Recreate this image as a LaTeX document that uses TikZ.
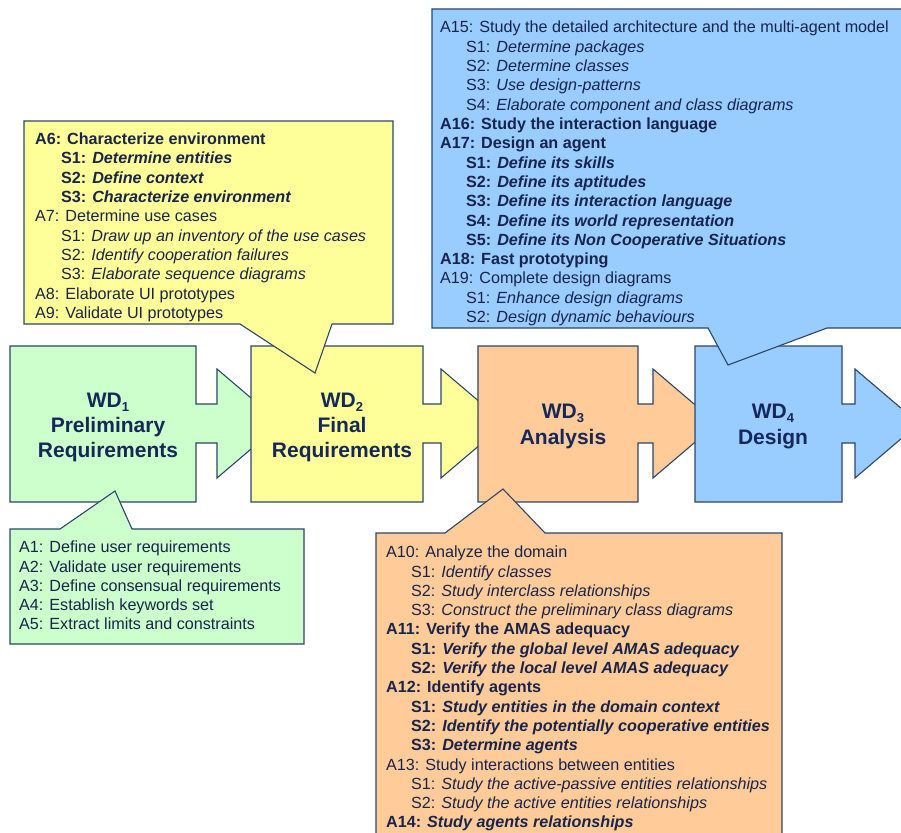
\documentclass[tikz,border=0pt]{standalone}
\usepackage{fontspec}
\setmainfont{Liberation Sans}
\definecolor{gfill}{RGB}{204,255,204}
\definecolor{yfill}{RGB}{255,255,153}
\definecolor{ofill}{RGB}{255,204,153}
\definecolor{bfill}{RGB}{153,204,255}
\definecolor{edge}{RGB}{45,70,105}
\definecolor{txt}{RGB}{24,36,76}
\definecolor{wdtxt}{RGB}{22,40,90}
\tikzset{
  shp/.style={draw=edge, line width=1.1pt, line join=miter},
  ln/.style={anchor=base west, inner sep=0pt, text=txt, font=\fontsize{16.15}{19.4}\selectfont},
  wd/.style={anchor=base, inner sep=0pt, text=wdtxt, font=\fontsize{21}{25}\selectfont\bfseries},
}
\newcommand\wdsub[1]{\raisebox{-4pt}{\fontsize{13}{13}\selectfont #1}}
\begin{document}
\begin{tikzpicture}[x=1pt,y=-1pt]
\useasboundingbox (0,0) rectangle (901,832);
\clip (0,0) rectangle (901,832);
\fill[white] (0,0) rectangle (901,832);

% work definition shapes
\draw[shp, fill=gfill] (10,346) -- (196,346) -- (196,404) -- (217,404) -- (217,369) -- (281,423.5) -- (217,478) -- (217,443) -- (196,443) -- (196,502) -- (10,502) -- cycle;
\draw[shp, fill=yfill] (251,346) -- (423,346) -- (423,404) -- (441,404) -- (441,369) -- (505,423.5) -- (441,478) -- (441,443) -- (423,443) -- (423,502) -- (251,502) -- cycle;
\draw[shp, fill=ofill] (478,346) -- (638,346) -- (638,404) -- (653,404) -- (653,369) -- (717,423.5) -- (653,478) -- (653,443) -- (638,443) -- (638,502) -- (478,502) -- cycle;
\draw[shp, fill=bfill] (695,346) -- (842,346) -- (842,404) -- (855,404) -- (855,369) -- (919,423.5) -- (855,478) -- (855,443) -- (842,443) -- (842,502) -- (695,502) -- cycle;

\node[wd] (wd1a) at (108,407) {WD\wdsub{1}};
\node[wd] (wd1b) at (108,432.5) {Preliminary};
\node[wd] (wd1c) at (108,457.5) {Requirements};
\node[wd] (wd2a) at (342,407) {WD\wdsub{2}};
\node[wd] (wd2b) at (342,432.5) {Final};
\node[wd] (wd2c) at (342,457.5) {Requirements};
\node[wd] (wd3a) at (563,418.5) {WD\wdsub{3}};
\node[wd] (wd3b) at (563,444.5) {Analysis};
\node[wd] (wd4a) at (773,418.5) {WD\wdsub{4}};
\node[wd] (wd4b) at (773,444.5) {Design};

% callouts
\draw[shp, fill=yfill] (24,121) -- (393,121) -- (393,324) -- (332,324) -- (315,373) -- (240,324) -- (24,324) -- cycle;
\draw[shp, fill=gfill] (10,529) -- (60,529) -- (115,491) -- (132,529) -- (304,529) -- (304,644) -- (10,644) -- cycle;
\draw[shp, fill=ofill] (376,533) -- (445,533) -- (503,489) -- (545,533) -- (782,533) -- (782,850) -- (376,850) -- cycle;
\draw[shp, fill=bfill] (432,9) -- (915,9) -- (915,328) -- (827,328) -- (728,365) -- (708,328) -- (432,328) -- cycle;

% yellow text
\node[ln] (y0) at (35,144.5) {\textbf{A6: Characterize environment}};
\node[ln] (y1) at (61,163.85) {\textbf{S1: \textit{Determine entities}}};
\node[ln] (y2) at (61,183.2) {\textbf{S2: \textit{Define context}}};
\node[ln] (y3) at (61,202.55) {\textbf{S3: \textit{Characterize environment}}};
\node[ln] (y4) at (35,221.9) {A7: Determine use cases};
\node[ln] (y5) at (61,241.25) {S1: \textit{Draw up an inventory of the use cases}};
\node[ln] (y6) at (61,260.6) {S2: \textit{Identify cooperation failures}};
\node[ln] (y7) at (61,279.95) {S3: \textit{Elaborate sequence diagrams}};
\node[ln] (y8) at (35,299.3) {A8: Elaborate UI prototypes};
\node[ln] (y9) at (35,318.65) {A9: Validate UI prototypes};

% green text
\node[ln] (g0) at (19,552.7) {A1: Define user requirements};
\node[ln] (g1) at (19,572.0) {A2: Validate user requirements};
\node[ln] (g2) at (19,591.3) {A3: Define consensual requirements};
\node[ln] (g3) at (19,610.6) {A4: Establish keywords set};
\node[ln] (g4) at (19,629.9) {A5: Extract limits and constraints};

% orange text
\node[ln] (o0) at (386,557.7) {A10: Analyze the domain};
\node[ln] (o1) at (411,577.0) {S1: \textit{Identify classes}};
\node[ln] (o2) at (411,596.3) {S2: \textit{Study interclass relationships}};
\node[ln] (o3) at (411,615.6) {S3: \textit{Construct the preliminary class diagrams}};
\node[ln] (o4) at (386,634.9) {\textbf{A11: Verify the AMAS adequacy}};
\node[ln] (o5) at (411,654.2) {\textbf{S1: \textit{Verify the global level AMAS adequacy}}};
\node[ln] (o6) at (411,673.5) {\textbf{S2: \textit{Verify the local level AMAS adequacy}}};
\node[ln] (o7) at (386,692.8) {\textbf{A12: Identify agents}};
\node[ln] (o8) at (411,712.1) {\textbf{S1: \textit{Study entities in the domain context}}};
\node[ln] (o9) at (411,731.4) {\textbf{S2: \textit{Identify the potentially cooperative entities}}};
\node[ln] (o10) at (411,750.7) {\textbf{S3: \textit{Determine agents}}};
\node[ln] (o11) at (386,770.0) {A13: Study interactions between entities};
\node[ln] (o12) at (411,789.3) {S1: \textit{Study the active-passive entities relationships}};
\node[ln] (o13) at (411,808.6) {S2: \textit{Study the active entities relationships}};
\node[ln] (o14) at (386,827.9) {\textbf{A14: \textit{Study agents relationships}}};

% blue text
\node[ln] (b0) at (440,32.7) {A15: Study the detailed architecture and the multi-agent model};
\node[ln] (b1) at (466,52.03) {S1: \textit{Determine packages}};
\node[ln] (b2) at (466,71.36) {S2: \textit{Determine classes}};
\node[ln] (b3) at (466,90.69) {S3: \textit{Use design-patterns}};
\node[ln] (b4) at (466,110.02) {S4: \textit{Elaborate component and class diagrams}};
\node[ln] (b5) at (440,129.35) {\textbf{A16: Study the interaction language}};
\node[ln] (b6) at (440,148.68) {\textbf{A17: Design an agent}};
\node[ln] (b7) at (466,168.01) {\textbf{S1: \textit{Define its skills}}};
\node[ln] (b8) at (466,187.34) {\textbf{S2: \textit{Define its aptitudes}}};
\node[ln] (b9) at (466,206.67) {\textbf{S3: \textit{Define its interaction language}}};
\node[ln] (b10) at (466,226.0) {\textbf{S4: \textit{Define its world representation}}};
\node[ln] (b11) at (466,245.33) {\textbf{S5: \textit{Define its Non Cooperative Situations}}};
\node[ln] (b12) at (440,264.66) {\textbf{A18: Fast prototyping}};
\node[ln] (b13) at (440,283.99) {A19: Complete design diagrams};
\node[ln] (b14) at (466,303.32) {S1: \textit{Enhance design diagrams}};
\node[ln] (b15) at (466,322.65) {S2: \textit{Design dynamic behaviours}};
\end{tikzpicture}
\end{document}
